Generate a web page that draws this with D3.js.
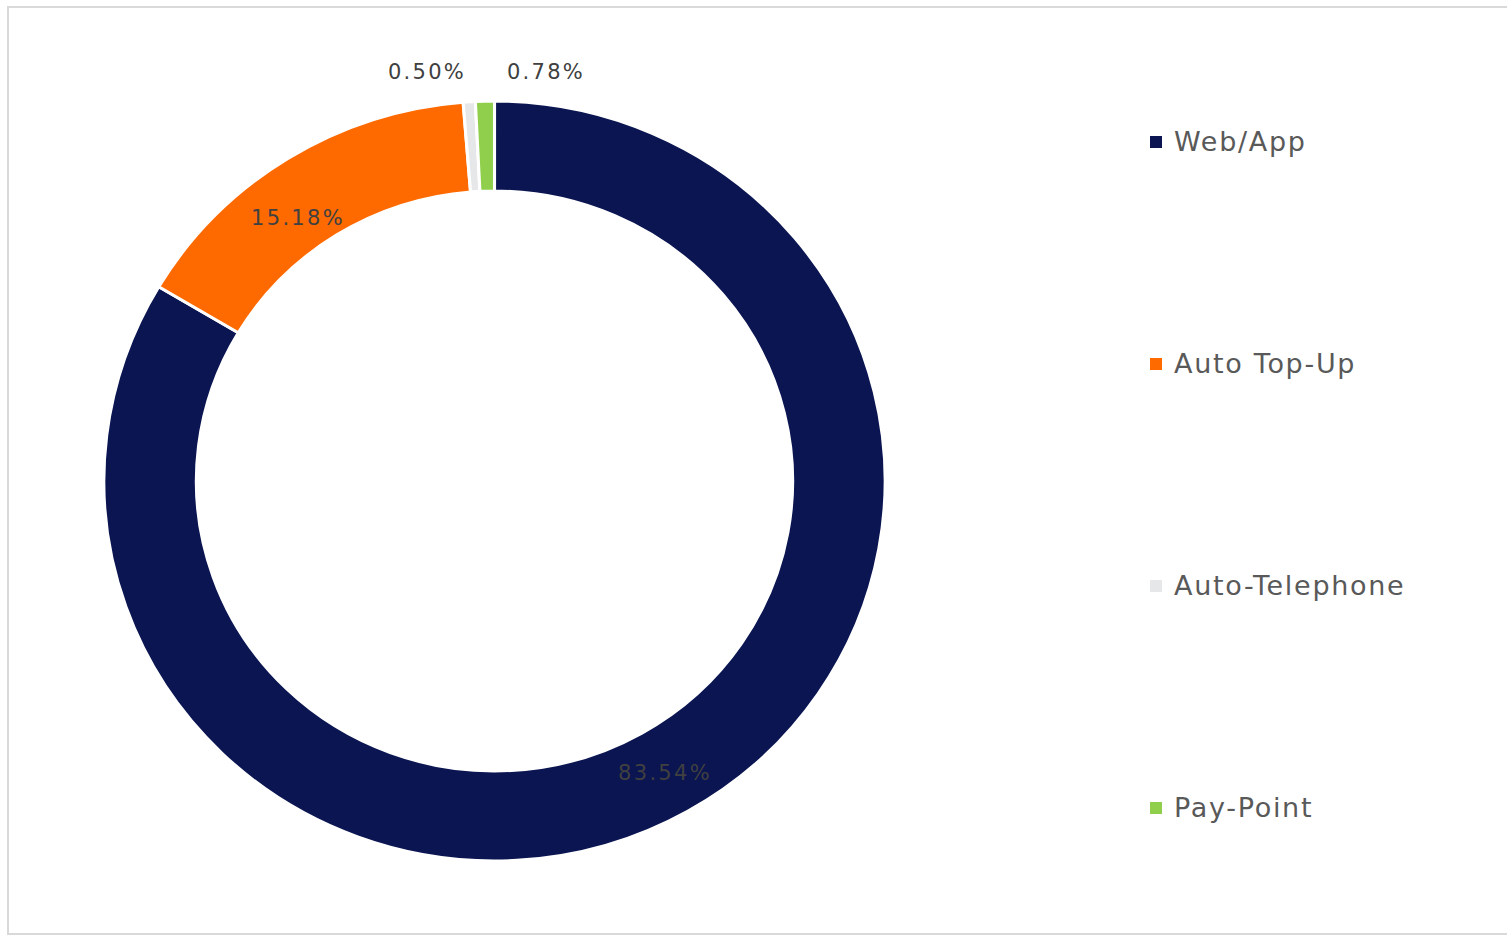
<!DOCTYPE html>
<html>
<head>
<meta charset="utf-8">
<script src="https://cdn.jsdelivr.net/npm/d3@7"></script>
<style>
  body { margin: 0; background: #fff; }
  text { font-family: "DejaVu Sans", Verdana, sans-serif; }
</style>
</head>
<body>
<div id="container"></div>
<script>
const categories = ["Web/App", "Auto Top-Up", "Auto-Telephone", "Pay-Point"]
const values = [83.54, 15.18, 0.50, 0.78]
const colors = ["#0a1551", "#ff6a00", "#e6e7e9", "#8fcf4b"]

const width = 1507
const height = 936

const svg = d3.select("#container").append("svg")
    .attr("width", width)
    .attr("height", height)

// chart frame
svg.append("rect")
    .attr("x", 8)
    .attr("y", 7)
    .attr("width", 1520)
    .attr("height", 927)
    .attr("fill", "none")
    .attr("stroke", "#d9d9d9")
    .attr("stroke-width", 2)

const cx = 494.5, cy = 481
const outerR = 380, innerR = 290
const sx = 1.028

const pie = d3.pie().sort(null).value(d => d)
const arcs = pie(values)

const arc = d3.arc().innerRadius(innerR).outerRadius(outerR)

const g = svg.append("g")
    .attr("transform", `translate(${cx},${cy}) scale(${sx},1)`)

g.selectAll("path")
    .data(arcs)
    .enter().append("path")
    .attr("d", arc)
    .attr("fill", (d, i) => colors[i])
    .attr("stroke", "#fff")
    .attr("stroke-width", 3)

// data labels
const labelPos = [
    {x: 665, y: 773},
    {x: 298, y: 218},
    {x: 427, y: 72},
    {x: 546, y: 72}
]

svg.selectAll(".label")
    .data(values)
    .enter().append("text")
    .attr("class", "label")
    .attr("x", (d, i) => labelPos[i].x)
    .attr("y", (d, i) => labelPos[i].y)
    .attr("dy", "0.35em")
    .attr("text-anchor", "middle")
    .attr("font-size", 21)
    .attr("letter-spacing", 2.3)
    .attr("fill", "#404040")
    .text(d => d.toFixed(2) + "%")

// legend
const legendY = d3.scalePoint()
    .domain(categories)
    .range([142, 808])

const legend = svg.append("g").attr("id", "legend")

const item = legend.selectAll("g")
    .data(categories)
    .enter().append("g")
    .attr("transform", d => `translate(1150, ${legendY(d)})`)

item.append("rect")
    .attr("x", 0)
    .attr("y", -6)
    .attr("width", 12)
    .attr("height", 12)
    .attr("fill", (d, i) => colors[i])

item.append("text")
    .attr("x", 24)
    .attr("dy", "0.35em")
    .attr("font-size", 27)
    .attr("letter-spacing", 1.7)
    .attr("fill", "#595959")
    .text(d => d)
</script>
</body>
</html>
